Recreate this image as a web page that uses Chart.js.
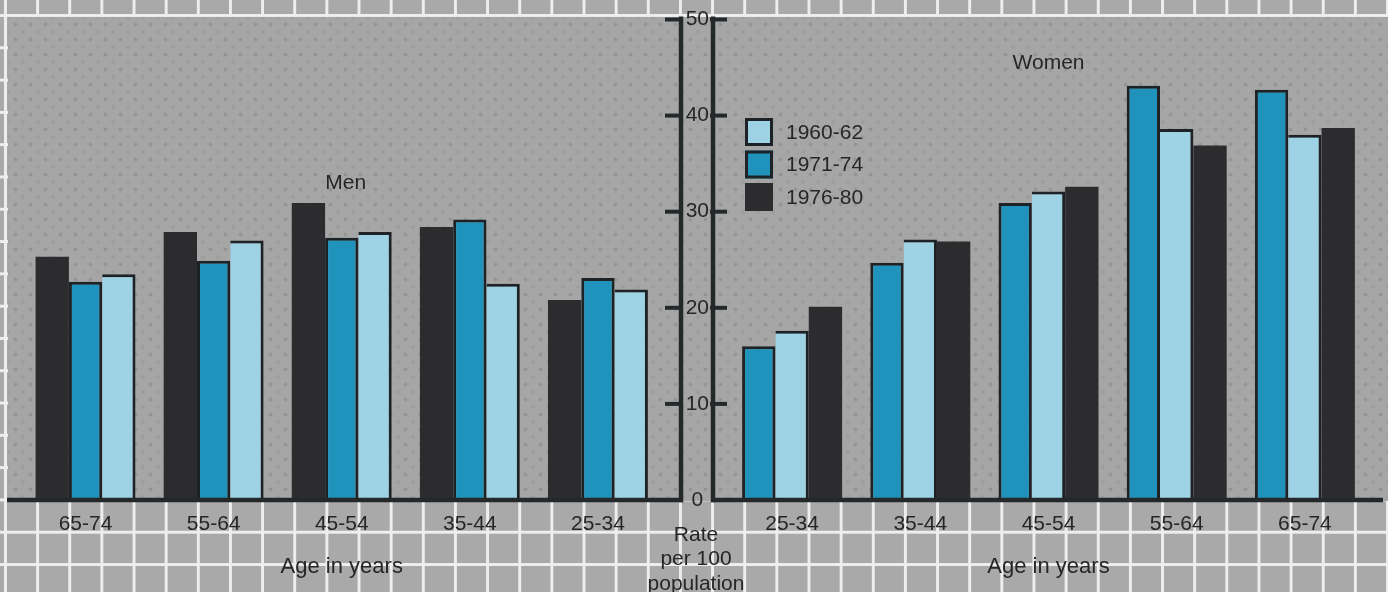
<!DOCTYPE html>
<html>
<head>
<meta charset="utf-8">
<script src="https://cdn.jsdelivr.net/npm/chart.js@4.4.1/dist/chart.umd.min.js"></script>
<style>
html,body{margin:0;padding:0;}
body{width:1388px;height:592px;overflow:hidden;position:relative;
  background-color:#a9a9a9;
  background-image:linear-gradient(to right,#eeeeee 3px,transparent 3px),linear-gradient(to bottom,#eeeeee 3px,transparent 3px);
  background-size:32.15px 32.3px;background-position:4px 14px;}
#panel{position:absolute;left:8px;top:17px;width:1380px;height:484px;background-color:#a6a6a6;
  background-image:radial-gradient(circle,rgba(115,115,115,0.35) 1.3px,transparent 2.4px),radial-gradient(circle,rgba(130,130,130,0.28) 1.3px,transparent 2.4px);
  background-size:15px 15px,15px 15px;background-position:0 0,7.5px 7.5px;}
canvas{position:absolute;left:0;top:0;}
</style>
</head>
<body>
<div id="panel"></div>
<canvas id="men" width="1388" height="592"></canvas>
<canvas id="women" width="1388" height="592"></canvas>
<script>
// ---- data ----
const menAgeGroups = ['65-74', '55-64', '45-54', '35-44', '25-34'];
const womenAgeGroups = ['25-34', '35-44', '45-54', '55-64', '65-74'];
const seriesNames = ['1960-62', '1971-74', '1976-80'];
const men1960_62 = [23.5, 27.0, 27.9, 22.5, 21.9];
const men1971_74 = [22.7, 24.9, 27.3, 29.2, 23.1];
const men1976_80 = [25.3, 27.9, 30.9, 28.4, 20.8];
const women1960_62 = [17.6, 27.1, 32.1, 38.6, 38.0];
const women1971_74 = [16.0, 24.7, 30.9, 43.1, 42.7];
const women1976_80 = [20.1, 26.9, 32.6, 36.9, 38.7];
const rateMin = 0, rateMax = 50, rateStep = 10;
const xTitle = 'Age in years';
const yTitleLines = ['Rate', 'per 100', 'population'];

// ---- styles ----
const COLORS = {'1960-62': '#9dd3e4', '1971-74': '#1f93bb', '1976-80': '#2c2c2f'};
const EDGE = '#1d2226';
const INK = '#262626';
const FONT = '"Liberation Sans", Arial, Helvetica, sans-serif';

function ds(label, data) {
  let bw;
  if (label === '1976-80') bw = 0;
  else if (label === '1960-62') bw = {top: 3, right: 3, left: 0, bottom: 0};
  else bw = {top: 3, right: 3, left: 3, bottom: 0};
  return {label, data, backgroundColor: COLORS[label], borderColor: EDGE, borderWidth: bw,
    borderSkipped: 'bottom', barPercentage: 1, categoryPercentage: 0.78};
}

function xScale() {
  return {
    type: 'category', offset: true,
    grid: {display: false, drawTicks: false}, border: {display: false},
    ticks: {color: INK, font: {family: FONT, size: 21}, padding: 12, maxRotation: 0, autoSkip: false},
    title: {display: true, text: xTitle, color: INK, font: {family: FONT, size: 22}, padding: {top: 0, bottom: 12}},
    afterFit(s) { s.height = 92; s.paddingLeft = 0; s.paddingRight = 0; }
  };
}

const panelLabel = {
  id: 'panelLabel',
  afterDatasetsDraw(chart, args, o) {
    const ctx = chart.ctx;
    const x = chart.scales.x.getPixelForValue(o.index) + (o.dx || 0);
    const y = chart.scales.y.getPixelForValue(o.value);
    ctx.save();
    ctx.fillStyle = INK; ctx.font = '21px ' + FONT;
    ctx.textAlign = 'center'; ctx.textBaseline = 'middle';
    ctx.fillText(o.text, x, y);
    ctx.restore();
  }
};

const frame = {
  id: 'frame',
  afterDraw(chart, args, o) {
    const ctx = chart.ctx, y = chart.scales.y;
    const y0 = y.getPixelForValue(0);
    const yTop = y.getPixelForValue(rateMax) - 3;
    const L = o.axisLeft, R = o.axisRight;
    function line(x1, y1, x2, y2) { ctx.beginPath(); ctx.moveTo(x1, y1); ctx.lineTo(x2, y2); ctx.stroke(); }
    ctx.save();
    ctx.strokeStyle = '#25282a'; ctx.lineCap = 'butt';
    ctx.lineWidth = 4.5;
    line(o.panelLeft, y0, L + 2, y0);
    line(R - 2, y0, o.panelRight, y0);
    line(L, yTop, L, y0 + 2.2);
    line(R, yTop, R, y0 + 2.2);
    ctx.lineWidth = 4;
    y.ticks.forEach(t => {
      if (t.value === 0) return;
      const py = y.getPixelForValue(t.value);
      line(L - 16, py, L + 2, py);
      line(R - 3, py, R + 14, py);
    });
    // axis title under the central axis
    ctx.fillStyle = INK; ctx.font = '21px ' + FONT;
    ctx.textAlign = 'center'; ctx.textBaseline = 'middle';
    const cx = (L + R) / 2 - 1;
    yTitleLines.forEach((s, i) => ctx.fillText(s, cx, y0 + 35 + i * 24.5));
    // legend
    const lx = R + 32;
    let ly = y.getPixelForValue(39.75);
    seriesNames.forEach(name => {
      const d = chart.data.datasets.find(dd => dd.label === name);
      ctx.fillStyle = d.backgroundColor;
      ctx.fillRect(lx, ly, 28, 28);
      if (d.borderWidth) {
        ctx.strokeStyle = EDGE; ctx.lineWidth = 3;
        ctx.strokeRect(lx + 1.5, ly + 1.5, 25, 25);
      }
      ctx.fillStyle = INK;
      ctx.textAlign = 'left';
      ctx.fillText(name, lx + 41, ly + 15);
      ly += 32.5;
    });
    ctx.restore();
  }
};

new Chart(document.getElementById('men'), {
  type: 'bar',
  data: {
    labels: menAgeGroups,
    datasets: [ds('1976-80', men1976_80), ds('1971-74', men1971_74), ds('1960-62', men1960_62)]
  },
  options: {
    responsive: false, animation: false,
    layout: {padding: {left: 21.5, right: 726, top: 19.5, bottom: 0}},
    plugins: {legend: {display: false}, tooltip: {enabled: false},
      panelLabel: {text: 'Men', index: 2, value: 33, dx: 4}},
    scales: {
      x: xScale(),
      y: {display: false, min: rateMin, max: rateMax}
    }
  },
  plugins: [panelLabel]
});

new Chart(document.getElementById('women'), {
  type: 'bar',
  data: {
    labels: womenAgeGroups,
    datasets: [ds('1971-74', women1971_74), ds('1960-62', women1960_62), ds('1976-80', women1976_80)]
  },
  options: {
    responsive: false, animation: false,
    layout: {padding: {left: 681, right: 19, top: 19.5, bottom: 0}},
    plugins: {legend: {display: false}, tooltip: {enabled: false},
      panelLabel: {text: 'Women', index: 2, value: 45.5, dx: 0},
      frame: {axisLeft: 681, axisRight: 713, panelLeft: 7, panelRight: 1383}},
    scales: {
      x: xScale(),
      y: {
        position: 'left', min: rateMin, max: rateMax,
        grid: {display: false, drawTicks: false}, border: {display: false},
        ticks: {stepSize: rateStep, crossAlign: 'center', padding: 19, color: INK, font: {family: FONT, size: 21}},
        afterFit(s) { s.width = 47; s.paddingTop = 0; s.paddingBottom = 0; }
      }
    }
  },
  plugins: [panelLabel, frame]
});
</script>
</body>
</html>
